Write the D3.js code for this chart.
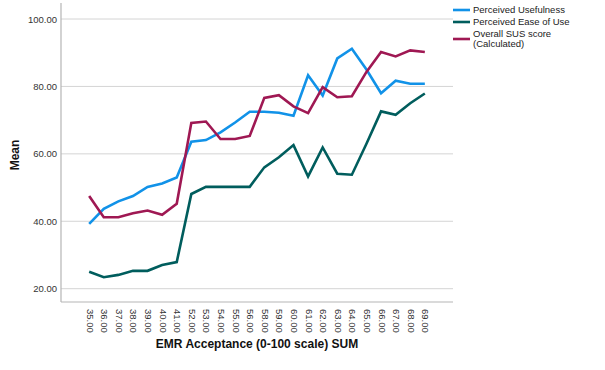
<!DOCTYPE html>
<html>
<head>
<meta charset="utf-8">
<script src="https://cdn.jsdelivr.net/npm/d3@7"></script>
<style>
  body { margin: 0; background: #fff; }
  svg { font-family: Arial, "Liberation Sans", sans-serif; }
</style>
</head>
<body>
<svg id="chart" width="605" height="370"></svg>
<script>
const categories = ['35.00','36.00','37.00','38.00','39.00','40.00','41.00','52.00','53.00','54.00','55.00','56.00',
  '58.00','59.00','60.00','61.00','62.00','63.00','64.00','65.00','66.00','67.00','68.00','69.00'];

const usefulness = [39.2, 43.7, 45.9, 47.5, 50.2, 51.2, 53.0, 63.6, 64.1, 66.4, 69.3, 72.5,
  72.5, 72.2, 71.3, 83.3, 77.3, 88.3, 91.2, 85.0, 78.0, 81.7, 80.8, 80.8];
const easeOfUse = [25.0, 23.4, 24.1, 25.3, 25.3, 27.0, 27.9, 48.1, 50.2, 50.2, 50.2, 50.2,
  56.0, 59.0, 62.6, 53.3, 61.9, 54.1, 53.8, 63.0, 72.6, 71.6, 75.0, 77.9];
const susScore = [47.5, 41.2, 41.2, 42.4, 43.2, 41.9, 45.2, 69.2, 69.6, 64.4, 64.4, 65.3,
  76.6, 77.4, 74.1, 72.1, 79.8, 76.8, 77.1, 84.3, 90.2, 88.9, 90.7, 90.2];

const yTicks = [20, 40, 60, 80, 100];

const series = [
  { name: ['Perceived Usefulness'], values: usefulness, color: '#1192e8' },
  { name: ['Perceived Ease of Use'], values: easeOfUse, color: '#005d5d' },
  { name: ['Overall SUS score', '(Calculated)'], values: susScore, color: '#9f1853' }
];

const svg = d3.select('#chart');
const plotL = 61, plotR = 453, plotT = 3, plotB = 302;

const x = d3.scalePoint().domain(categories).range([plotL, plotR]).padding(1.93);
const y = d3.scaleLinear().domain([20, 100]).range([288.7, 19]);

// gridlines
svg.append('g')
  .selectAll('line')
  .data(yTicks)
  .enter().append('line')
  .attr('x1', plotL).attr('x2', plotR)
  .attr('y1', d => y(d)).attr('y2', d => y(d))
  .attr('stroke', '#d4d4d4').attr('stroke-width', 1);

// axes
const yAxis = svg.append('g')
  .attr('transform', `translate(${plotL},0)`)
  .call(d3.axisLeft(y).tickValues(yTicks).tickSize(0).tickPadding(4).tickFormat(d3.format('.2f')));
yAxis.select('.domain').remove();
yAxis.selectAll('text').attr('font-size', 9.5).attr('fill', '#333').attr('font-family', 'Arial, "Liberation Sans", sans-serif');

const xAxis = svg.append('g')
  .attr('transform', `translate(0,${plotB})`)
  .call(d3.axisBottom(x).tickSize(0).tickPadding(0));
xAxis.select('.domain').remove();
xAxis.selectAll('text')
  .attr('transform', 'rotate(90)')
  .attr('text-anchor', 'start')
  .attr('x', 7).attr('y', 0).attr('dy', '0.32em')
  .attr('font-size', 9.5).attr('fill', '#333')
  .attr('font-family', 'Arial, "Liberation Sans", sans-serif');

svg.append('line')
  .attr('x1', plotL).attr('x2', plotL).attr('y1', plotT).attr('y2', plotB)
  .attr('stroke', '#b5b5b5').attr('stroke-width', 1.2);
svg.append('line')
  .attr('x1', plotL).attr('x2', plotR).attr('y1', plotB).attr('y2', plotB)
  .attr('stroke', '#b5b5b5').attr('stroke-width', 1.2);

// titles
svg.append('text')
  .attr('transform', `translate(19,155) rotate(-90)`)
  .attr('text-anchor', 'middle')
  .attr('font-size', 12).attr('font-weight', 'bold').attr('fill', '#111')
  .text('Mean');

svg.append('text')
  .attr('x', 257).attr('y', 348)
  .attr('text-anchor', 'middle')
  .attr('font-size', 12).attr('font-weight', 'bold').attr('fill', '#111')
  .text('EMR Acceptance (0-100 scale) SUM');

// lines
const line = d3.line()
  .x((d, i) => x(categories[i]))
  .y(d => y(d));

svg.append('g')
  .selectAll('path')
  .data(series)
  .enter().append('path')
  .attr('d', d => line(d.values))
  .attr('fill', 'none')
  .attr('stroke', d => d.color)
  .attr('stroke-width', 2.6)
  .attr('stroke-linejoin', 'miter');

// legend
const legendY = [10, 22, 39];
const legend = svg.append('g');
series.forEach((s, i) => {
  const g = legend.append('g').attr('transform', `translate(453,${legendY[i]})`);
  g.append('line')
    .attr('x1', 0).attr('x2', 17).attr('y1', 0).attr('y2', 0)
    .attr('stroke', s.color).attr('stroke-width', 2.6);
  const t = g.append('text')
    .attr('x', 20)
    .attr('y', s.name.length > 1 ? -5 : 0)
    .attr('font-size', 9.5).attr('fill', '#222');
  s.name.forEach((n, j) => {
    t.append('tspan').attr('x', 20).attr('dy', j === 0 ? '0.35em' : '1.05em').text(n);
  });
});
</script>
</body>
</html>
